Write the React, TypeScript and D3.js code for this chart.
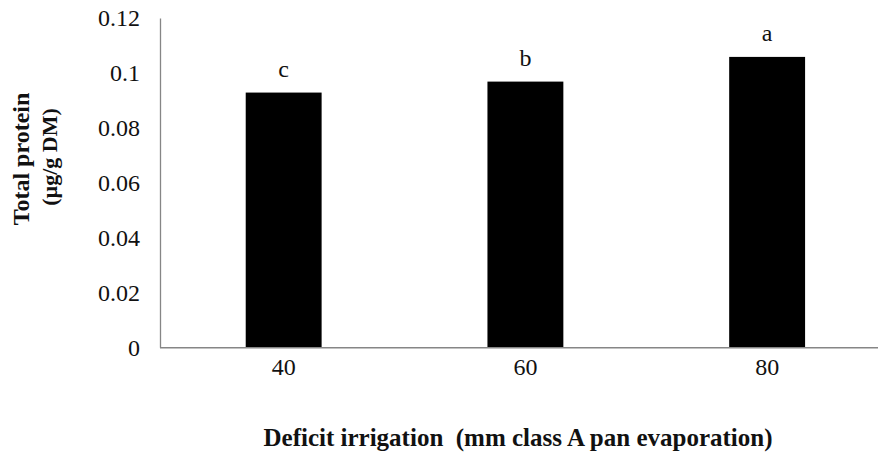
import React from "react";
import * as d3 from "d3";

const categories = ["40", "60", "80"];
const values = [0.093, 0.097, 0.106];
const letters = ["c", "b", "a"];
const yTicks = [0, 0.02, 0.04, 0.06, 0.08, 0.1, 0.12];
const xTitle = "Deficit irrigation  (mm class A pan evaporation)";
const yTitle1 = "Total protein";
const yTitle2 = "(µg/g DM)";

const W = 878;
const H = 452;
const FONT = '"Liberation Serif", "Times New Roman", "DejaVu Serif", serif';

export default function App() {
  const x = d3
    .scaleBand<string>()
    .domain(categories)
    .range([162.8, 888])
    .paddingInner(0.686)
    .paddingOuter(0.343);
  const y = d3.scaleLinear().domain([0, 0.12]).range([347.7, 18.5]);
  const fmt = (v: number) => (v === 0 ? "0" : String(+v.toFixed(2)));
  const txt = { fontFamily: FONT, fill: "#111" } as React.CSSProperties;

  return (
    <svg
      width={W}
      height={H}
      style={{ position: "absolute", left: 0, top: 0, background: "#fff", fontFamily: FONT }}
    >
      <rect x={0} y={0} width={W} height={H} fill="#fff" />
      {categories.map((c, i) => (
        <rect
          key={c}
          x={x(c)}
          y={y(values[i])}
          width={x.bandwidth()}
          height={y(0) - y(values[i])}
          fill="#000"
        />
      ))}
      {categories.map((c, i) => (
        <text
          key={"l" + c}
          x={(x(c) as number) + x.bandwidth() / 2}
          y={y(values[i]) - 16}
          textAnchor="middle"
          fontSize={24}
          style={txt}
        >
          {letters[i]}
        </text>
      ))}
      <line x1={160.5} x2={160.5} y1={y(0.12)} y2={y(0)} stroke="#868686" strokeWidth={1.3} />
      <line x1={160} x2={W} y1={y(0)} y2={y(0)} stroke="#868686" strokeWidth={1.5} />
      {yTicks.map((t) => (
        <text
          key={"y" + t}
          x={140}
          y={y(t)}
          dy="0.33em"
          textAnchor="end"
          fontSize={24}
          style={txt}
        >
          {fmt(t)}
        </text>
      ))}
      {categories.map((c) => (
        <text
          key={"x" + c}
          x={(x(c) as number) + x.bandwidth() / 2}
          y={375}
          textAnchor="middle"
          fontSize={24}
          style={txt}
        >
          {c}
        </text>
      ))}
      <text
        x={518}
        y={446}
        textAnchor="middle"
        fontSize={25}
        fontWeight="bold"
        style={{ ...txt, whiteSpace: "pre" }}
      >
        {xTitle}
      </text>
      <text
        transform={`translate(29,159) rotate(-90)`}
        textAnchor="middle"
        fontSize={24}
        fontWeight="bold"
        style={txt}
      >
        {yTitle1}
      </text>
      <text
        transform={`translate(57,157) rotate(-90)`}
        textAnchor="middle"
        fontSize={22}
        fontWeight="bold"
        style={txt}
      >
        {yTitle2}
      </text>
    </svg>
  );
}
